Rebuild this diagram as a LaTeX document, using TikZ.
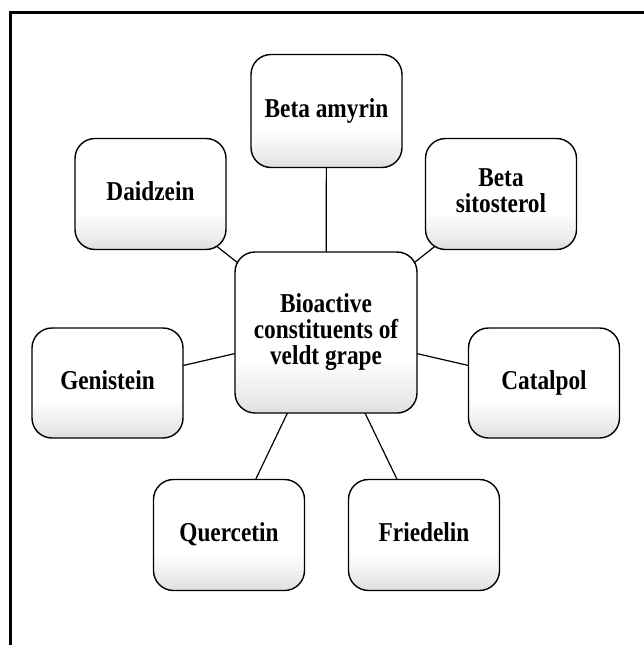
\documentclass[tikz,border=0pt]{standalone}
\usepackage{fontspec}
\usepackage{graphicx}
\setmainfont{Liberation Serif}
\usetikzlibrary{backgrounds}
\pgfdeclareverticalshading{boxshade}{100bp}{color(0bp)=(black!13); color(25bp)=(black!13); color(30bp)=(black!8); color(42bp)=(white); color(100bp)=(white)}
\newcommand\vtext[1]{\scalebox{1}[1.17]{\begin{tabular}{@{}c@{}}#1\end{tabular}}}
\tikzset{
  itembox/.style={draw=black, line width=1.4pt, rounded corners=20pt,
    shading=boxshade,
    minimum width=151pt, minimum height=111pt, inner sep=0pt,
    align=center, font=\fontsize{23.3}{19}\selectfont\bfseries},
  hubbox/.style={itembox, minimum width=182pt, minimum height=161pt},
  link/.style={draw=black, line width=1.2pt},
  frameline/.style={draw=black, line width=3pt}
}
\begin{document}
\begin{tikzpicture}[x=1pt,y=-1pt]
\useasboundingbox (0,0) rectangle (644,645);
\draw[frameline] (10.5,646) -- (10.5,12) -- (645,12);
\node[hubbox] (hub) at (326,332.5) {\vtext{Bioactive\\constituents of\\veldt grape}};
\node[itembox, minimum height=113pt] (amyrin) at (326.5,111) {\vtext{Beta amyrin}};
\node[itembox] (daidzein) at (150.5,194) {\vtext{Daidzein}};
\node[itembox] (sito) at (501,194) {\vtext{Beta\\sitosterol}};
\node[itembox, minimum height=110pt] (genistein) at (107.5,383) {\vtext{Genistein}};
\node[itembox, minimum height=110pt] (catalpol) at (544,383) {\vtext{Catalpol}};
\node[itembox] (quercetin) at (229,535) {\vtext{Quercetin}};
\node[itembox] (friedelin) at (424,535) {\vtext{Friedelin}};
\begin{pgfonlayer}{background}
\draw[link] (hub.center) -- (amyrin.center);
\draw[link] (hub.center) -- (daidzein.center);
\draw[link] (hub.center) -- (sito.center);
\draw[link] (hub.center) -- (genistein.center);
\draw[link] (hub.center) -- (catalpol.center);
\draw[link] (hub.center) -- (quercetin.center);
\draw[link] (hub.center) -- (friedelin.center);
\end{pgfonlayer}
\end{tikzpicture}
\end{document}
